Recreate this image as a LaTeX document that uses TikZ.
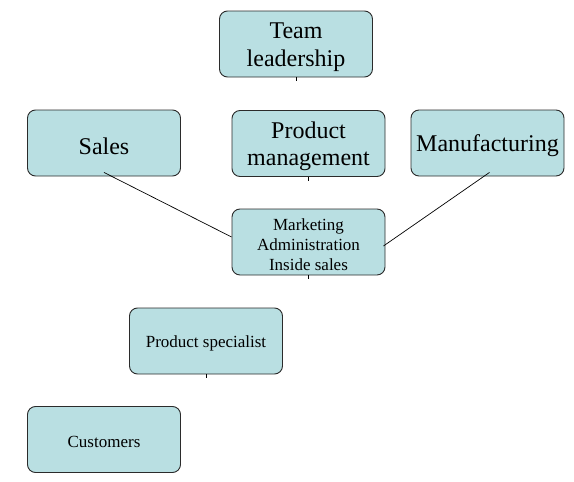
\documentclass[tikz,border=0pt]{standalone}
\usepackage{fontspec}
\setmainfont{Liberation Serif}
\usepackage{xcolor,tikz}
\usetikzlibrary{positioning}
\definecolor{boxfill}{HTML}{B9DFE2}
\definecolor{boxline}{HTML}{2B2B2B}

\tikzset{
  unit/.style={draw=boxline,fill=boxfill,rounded corners=8pt,line width=0.9pt,
    minimum width=153pt,minimum height=66pt,align=center,inner sep=2pt,
    font=\fontsize{24}{27.5}\selectfont,
    execute at begin node={\rule{0pt}{0.95em}}},
  lower/.style={text height=#1},
  small/.style={font=\fontsize{17}{20}\selectfont},
  link/.style={draw=black,line width=0.7pt}
}

\begin{document}
\begin{tikzpicture}[x=1pt,y=-1pt]
\useasboundingbox (0,0) rectangle (574,482);
\node[unit,lower=50pt] (lead) at (296,44) {Team\\leadership};
\node[unit] (sales) at (104,143) {Sales};
\node[unit,lower=50pt] (prod) at (308.5,143.5) {Product\\management};
\node[unit] (manu) at (487.5,143) {Manufacturing};
\node[unit,small,lower=57pt] (mkt) at (308.5,242) {Marketing\\Administration\\Inside sales};
\node[unit,small] (spec) at (206,341) {Product specialist};
\node[unit,small] (cust) at (104,439.5) {Customers};

\draw[link] ([yshift=4pt]sales.south) -- ([yshift=5pt]mkt.west);
\draw[link] ([xshift=2pt,yshift=4pt]manu.south) -- ([xshift=-2pt,yshift=-4pt]mkt.east);
% short stubs under the boxes
\foreach \n in {lead,prod,mkt,spec}
  \draw[link] (\n.south) -- ++(0,4);
\end{tikzpicture}
\end{document}
